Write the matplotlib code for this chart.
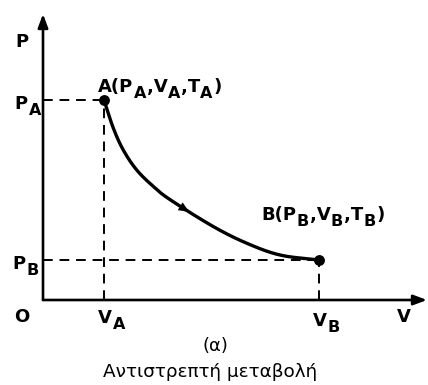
import matplotlib
matplotlib.use("Agg")
import matplotlib.pyplot as plt
import numpy as np

plt.rcParams['font.family'] = ['DejaVu Sans']

# Data, arbitrary units
curve_V = [1.0, 1.152, 1.316, 1.536, 1.808, 2.082, 2.787, 3.339, 3.885, 4.52]
curve_P = [5.0, 4.30, 3.75, 3.25, 2.84, 2.51, 1.84, 1.42, 1.125, 1.0]
V_A, P_A = curve_V[0], curve_P[0]
V_B, P_B = curve_V[-1], curve_P[-1]
label_A = [("A(P", 0), ("A", 1), (",V", 0), ("A", 1), (",T", 0), ("A", 1), (")", 0)]
label_B = [("B(P", 0), ("B", 1), (",V", 0), ("B", 1), (",T", 0), ("B", 1), (")", 0)]
caption_a = "(α)"
caption = "Αντιστρεπτή μεταβολή"

fig = plt.figure(figsize=(4.28, 3.85), dpi=100)
ax = fig.add_axes([0, 0, 1, 1])
ax.set_xlim(-43 / 61, (428 - 43) / 61)
ax.set_ylim(-85 / 40, 300 / 40)
ax.axis('off')
renderer = fig.canvas.get_renderer()

# axes with arrows
xmax = (427 - 43) / 61
ymax = (300 - 14) / 40
for tip in [(xmax, 0), (0, ymax)]:
    ax.annotate('', xy=tip, xytext=(0, 0),
                arrowprops=dict(arrowstyle='-|>,head_length=0.8,head_width=0.3', lw=1.9,
                                color='black', shrinkA=0, shrinkB=0))

dash = dict(color='black', lw=1.4, dashes=(5, 3.5))
ax.plot([0, V_A], [P_A, P_A], **dash)
ax.plot([V_A, V_A], [0, P_A], **dash)
ax.plot([0, V_B], [P_B, P_B], **dash)
ax.plot([V_B, V_B], [0, P_B], **dash)

# Catmull-Rom smoothing through the read points
pts = np.column_stack([curve_V, curve_P])
ext = np.vstack([2 * pts[0] - pts[1], pts, 2 * pts[-1] - pts[-2]])
segs = []
for i in range(1, len(ext) - 2):
    p0, p1, p2, p3 = ext[i - 1], ext[i], ext[i + 1], ext[i + 2]
    s = np.linspace(0, 1, 20)[:, None]
    seg = 0.5 * ((2 * p1) + (-p0 + p2) * s + (2 * p0 - 5 * p1 + 4 * p2 - p3) * s ** 2
                 + (-p0 + 3 * p1 - 3 * p2 + p3) * s ** 3)
    segs.append(seg if i == 1 else seg[1:])
sm = np.vstack(segs)
ax.plot(sm[:, 0], sm[:, 1], color='black', lw=2.4, solid_capstyle='round')
ax.plot([V_A, V_B], [P_A, P_B], 'o', color='black', ms=6.8)

# arrow on curve near (185px, 208px)
d = np.hypot((sm[:, 0] - 2.33) * 61, (sm[:, 1] - 2.30) * 40)
j = int(np.argmin(d))
ax.annotate('', xy=(sm[j + 2, 0], sm[j + 2, 1]), xytext=(sm[j - 2, 0], sm[j - 2, 1]),
            arrowprops=dict(arrowstyle='-|>,head_length=0.75,head_width=0.32', lw=0.1,
                            color='black', shrinkA=0, shrinkB=0))


def rich(x, y, pieces, fs=13, sfs=11.5, drop=6, track=1.0, ha='left'):
    """Draw text with subscripts; x,y data coords of left (or center) at baseline."""
    X, Y = ax.transData.transform((x, y))
    arts = []
    cx = X
    for s, sub in pieces:
        t = ax.text(cx, Y - (drop if sub else 0), s, transform=None, fontsize=sfs if sub else fs,
                    fontweight='bold', va='baseline', ha='left', color='black')
        bb = t.get_window_extent(renderer)
        cx = bb.x1 + track
        arts.append(t)
    if ha == 'center':
        w = cx - X
        for t in arts:
            px, py = t.get_position()
            t.set_position((px - w / 2, py))


rich(-0.47, 4.78, [("P", 0), ("A", 1)])
rich(-0.5, 0.78, [("P", 0), ("B", 1)])
rich(0.9, -0.58, [("V", 0), ("A", 1)])
rich(4.42, -0.64, [("V", 0), ("B", 1)])
rich(-0.335, 6.32, [("P", 0)], ha='center')
rich(-0.344, -0.55, [("O", 0)], ha='center')
rich(5.93, -0.55, [("V", 0)], ha='center')
rich(0.9, 5.2, label_A, track=0.5)
rich(3.58, 2.0, label_B, track=0.5)
ax.text(2.82, -1.15, caption_a, ha='center', va='center', fontsize=13)
ax.text(2.74, -1.8, caption, ha='center', va='center', fontsize=13.2)

fig.savefig("out.png", dpi=100, facecolor='white')
